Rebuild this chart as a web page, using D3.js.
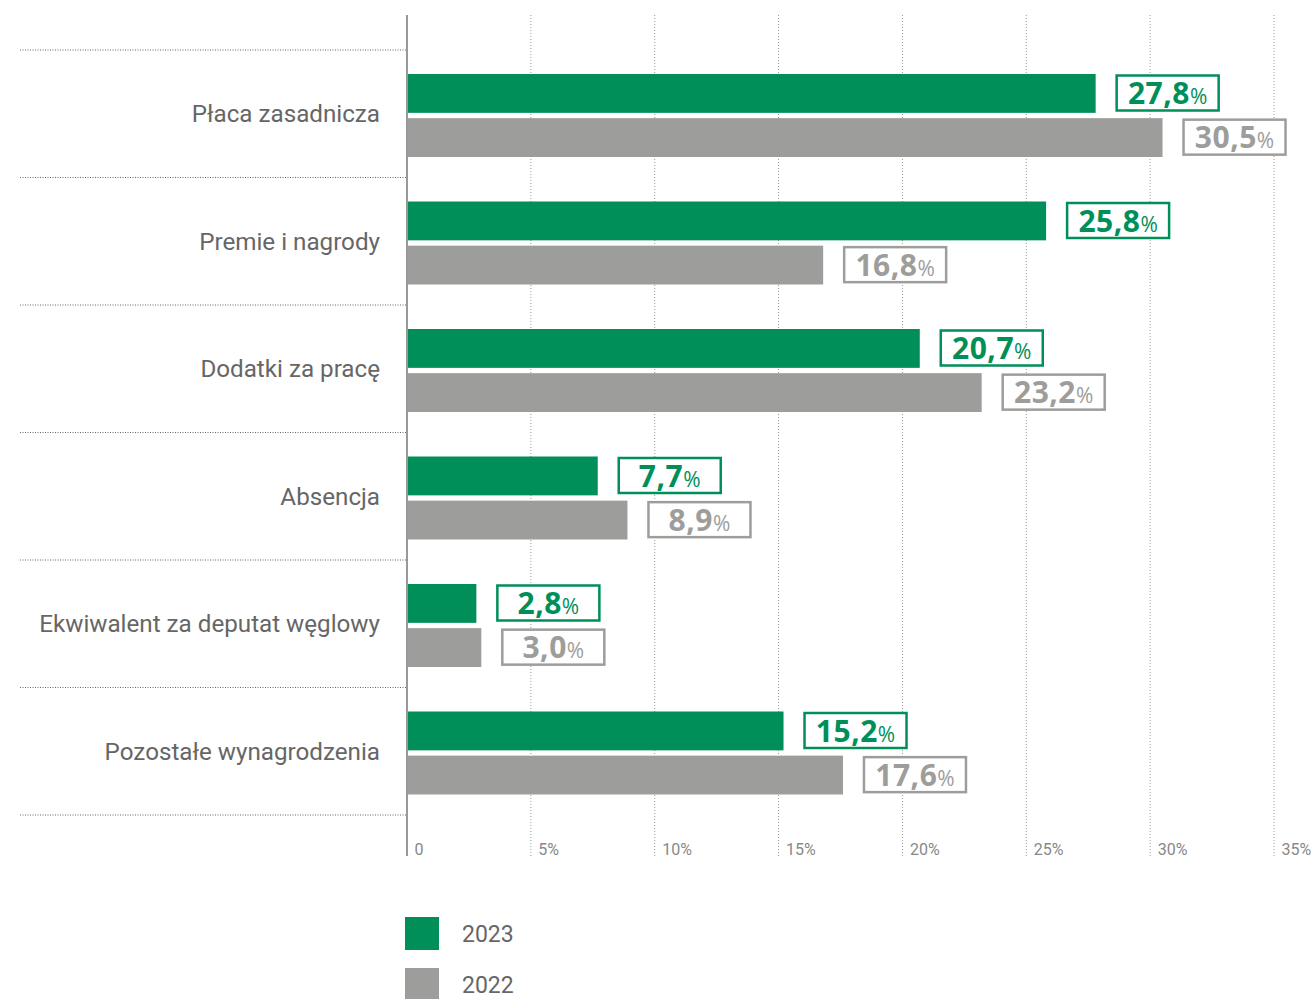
<!DOCTYPE html>
<html>
<head>
<meta charset="utf-8">
<script src="https://cdn.jsdelivr.net/npm/d3@7"></script>
<style>
  body { margin: 0; background: #fff; }
  text { font-family: Roboto, "Noto Sans", sans-serif; }
</style>
</head>
<body>
<div id="chart"></div>
<script>
// data
var categories = ["Płaca zasadnicza", "Premie i nagrody", "Dodatki za pracę", "Absencja", "Ekwiwalent za deputat węglowy", "Pozostałe wynagrodzenia"]
var years = ["2023", "2022"]
var values2023 = [27.8, 25.8, 20.7, 7.7, 2.8, 15.2]
var values2022 = [30.5, 16.8, 23.2, 8.9, 3.0, 17.6]
var ticks = [0, 5, 10, 15, 20, 25, 30, 35]

var colors = { "2023": "#008f58", "2022": "#9d9d9c" }

var width = 1316, height = 999

var svg = d3.select("#chart").append("svg")
  .attr("width", width)
  .attr("height", height)

var xScale = d3.scaleLinear().domain([0, 35]).range([407, 1274])
var yScale = d3.scaleBand().domain(categories).range([50, 815])
var subScale = d3.scaleBand().domain(years).range([24, 107]).paddingInner(0.12)

// vertical gridlines
svg.selectAll(".grid")
  .data(ticks.slice(1))
  .enter().append("line")
  .attr("x1", d => xScale(d)).attr("x2", d => xScale(d))
  .attr("y1", 15).attr("y2", 856)
  .attr("stroke", "#999")
  .attr("stroke-width", 1)
  .attr("stroke-dasharray", "1,2")

// category separators
var seps = categories.map(c => yScale(c)).concat([yScale.range()[1]])
svg.selectAll(".sep")
  .data(seps)
  .enter().append("line")
  .attr("x1", 20).attr("x2", 407)
  .attr("y1", d => d).attr("y2", d => d)
  .attr("stroke", "#666")
  .attr("stroke-width", 1)
  .attr("stroke-dasharray", "1,1.5")

// rows
var rows = categories.map((c, i) => ({ cat: c, items: [
  { year: "2023", v: values2023[i] },
  { year: "2022", v: values2022[i] }
] }))

var g = svg.selectAll(".row")
  .data(rows)
  .enter().append("g")
  .attr("transform", d => "translate(0," + yScale(d.cat) + ")")

g.append("text")
  .attr("x", 380)
  .attr("y", yScale.bandwidth() / 2)
  .attr("dy", "0.35em")
  .attr("text-anchor", "end")
  .attr("font-size", 24.2)
  .attr("fill", "#666")
  .text(d => d.cat)

var bars = g.selectAll(".bar")
  .data(d => d.items)
  .enter().append("g")

bars.append("rect")
  .attr("x", xScale(0))
  .attr("y", d => subScale(d.year))
  .attr("width", d => xScale(d.v) - xScale(0))
  .attr("height", subScale.bandwidth())
  .attr("fill", d => colors[d.year])

// value boxes
bars.append("rect")
  .attr("x", d => xScale(d.v) + 21)
  .attr("y", d => subScale(d.year) + 1.5)
  .attr("width", 102)
  .attr("height", 35)
  .attr("fill", "#fff")
  .attr("stroke", d => colors[d.year])
  .attr("stroke-width", 2.5)

var lbl = bars.append("text")
  .attr("x", d => xScale(d.v) + 72)
  .attr("y", d => subScale(d.year) + 30)
  .attr("text-anchor", "middle")
  .attr("fill", d => colors[d.year])
  .style("font-family", "'Open Sans', sans-serif")
lbl.append("tspan")
  .attr("font-size", 30)
  .attr("font-weight", 700)
  .attr("letter-spacing", 0.5)
  .text(d => d.v.toFixed(1).replace(".", ","))
lbl.append("tspan")
  .attr("font-size", 21)
  .attr("font-weight", 400)
  .text("%")

// axis
var xAxis = d3.axisBottom(xScale)
  .tickValues(ticks)
  .tickSize(0)
  .tickFormat(d => d === 0 ? "0" : d + "%")
var ax = svg.append("g")
  .attr("transform", "translate(0,841)")
  .call(xAxis)
ax.select(".domain").remove()
ax.selectAll("text")
  .attr("text-anchor", "start")
  .attr("x", 7)
  .attr("font-size", 16)
  .attr("fill", "#888")
  .style("font-family", "Roboto, sans-serif")

svg.append("line")
  .attr("x1", xScale(0)).attr("x2", xScale(0))
  .attr("y1", 15).attr("y2", 856)
  .attr("stroke", "#999")
  .attr("stroke-width", 2)

// legend
var leg = svg.selectAll(".leg")
  .data(years)
  .enter().append("g")
  .attr("transform", (d, i) => "translate(405," + (917 + i * 51) + ")")
leg.append("rect")
  .attr("width", 34).attr("height", 33)
  .attr("fill", d => colors[d])
leg.append("text")
  .attr("x", 57).attr("y", 17)
  .attr("dy", "0.35em")
  .attr("font-size", 23)
  .attr("fill", "#666")
  .text(d => d)
</script>
</body>
</html>
